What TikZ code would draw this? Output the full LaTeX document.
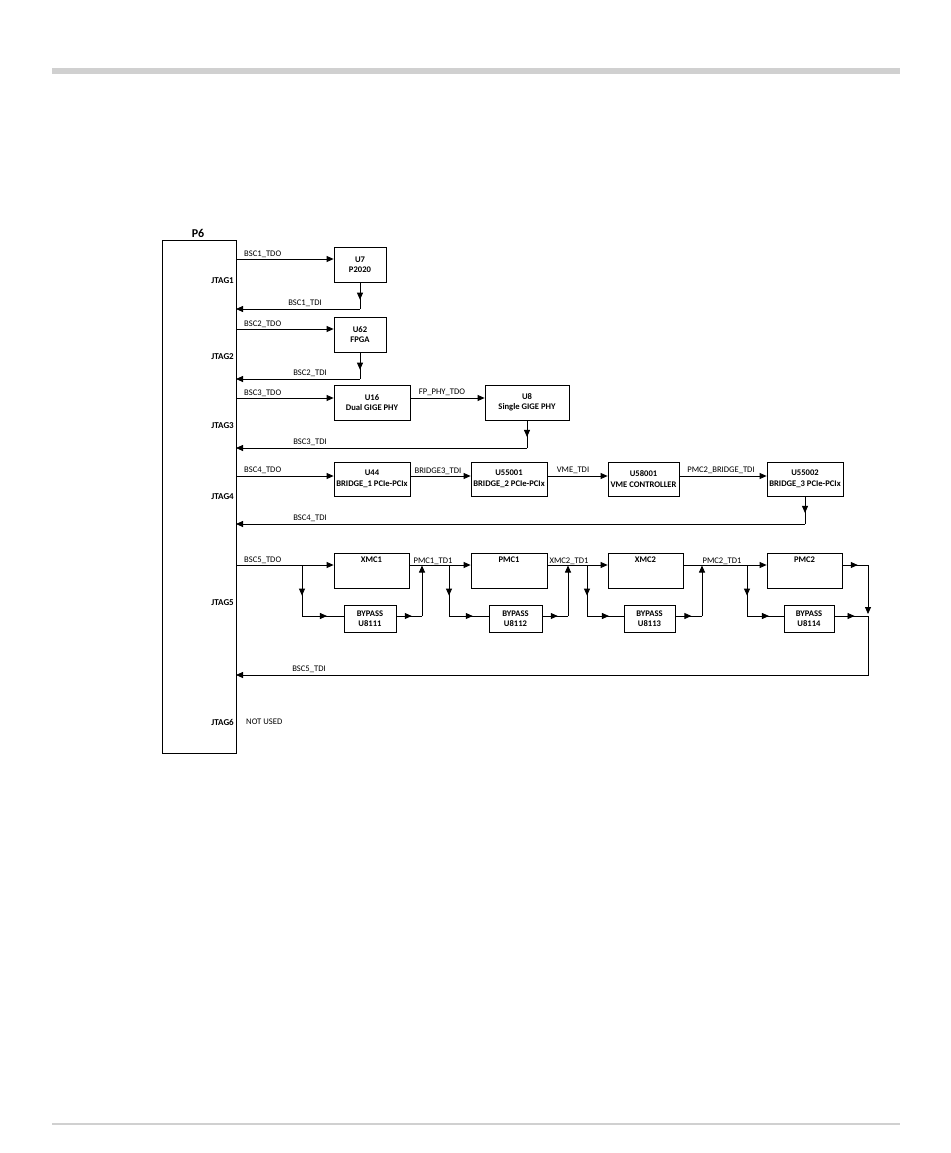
\documentclass[tikz,border=0pt]{standalone}
\usepackage{fontspec}
\setmainfont{Carlito}
\usetikzlibrary{arrows.meta,decorations.markings}
\begin{document}
\begin{tikzpicture}[x=1pt,y=-1pt,>={Triangle[length=7pt,width=6pt]},
  wire/.style={line width=0.8pt},
  mid/.style={wire,postaction={decorate},decoration={markings,mark=at position #1 with {\arrow{>}}}},
  mid/.default=0.6,
  chip/.style={draw,line width=0.8pt,inner sep=0pt,align=center,font=\fontsize{8.6}{10.5}\selectfont\bfseries},
  sig/.style={inner sep=0pt,font=\fontsize{8.6}{9}\selectfont},
  jtag/.style={inner sep=0pt,anchor=east,font=\fontsize{9}{10}\selectfont\bfseries}]
\useasboundingbox (0,0) rectangle (950,1153);
\fill[fill={rgb,255:red,208;green,208;blue,208}] (52,68) rectangle (900,74);
\draw[line width=2pt,color={rgb,255:red,208;green,208;blue,208}] (52,1124) -- (900,1124);
\node[draw,line width=0.8pt,minimum width=74pt,minimum height=513pt,inner sep=0pt] (p6) at (199,496.5) {};
\node[inner sep=0pt,anchor=base,font=\fontsize{12}{13}\selectfont\bfseries] (p6t) at (198,237) {P6};
\node[jtag] (j1) at (234,281) {JTAG1};
\node[jtag] (j2) at (234,357) {JTAG2};
\node[jtag] (j3) at (234,426) {JTAG3};
\node[jtag] (j4) at (234,497) {JTAG4};
\node[jtag] (j5) at (234,603) {JTAG5};
\node[jtag] (j6) at (234,722) {JTAG6};
\node[sig,anchor=west] (nu) at (246,722) {NOT USED};
\node[chip,minimum width=52pt,minimum height=35pt] (u7) at (360,264.5) {U7\\P2020};
\node[chip,minimum width=52pt,minimum height=35pt] (u62) at (360,334.5) {U62\\FPGA};
\node[chip,minimum width=76pt,minimum height=35pt] (u16) at (372,402.5) {U16\\Dual GIGE PHY};
\node[chip,minimum width=84pt,minimum height=35pt] (u8) at (527,402.5) {U8\\Single GIGE PHY};
\node[chip,minimum width=76pt,minimum height=34pt] (u44) at (372,479) {U44\\BRIDGE\_1 PCIe-PCIx};
\node[chip,minimum width=76pt,minimum height=34pt] (u55001) at (509,479) {U55001\\BRIDGE\_2 PCIe-PCIx};
\node[chip,minimum width=71pt,minimum height=34pt] (u58001) at (643.5,479) {U58001\\VME CONTROLLER};
\node[chip,minimum width=76pt,minimum height=34pt] (u55002) at (805,479) {U55002\\BRIDGE\_3 PCIe-PCIx};
\node[chip,minimum width=75pt,minimum height=35pt,label={[chip,draw=none,anchor=north,yshift=-4pt]north:XMC1}] (xmc1) at (371.5,570.5) {};
\node[chip,minimum width=76pt,minimum height=35pt,label={[chip,draw=none,anchor=north,yshift=-4pt]north:PMC1}] (pmc1) at (509,570.5) {};
\node[chip,minimum width=75pt,minimum height=35pt,label={[chip,draw=none,anchor=north,yshift=-4pt]north:XMC2}] (xmc2) at (645.5,570.5) {};
\node[chip,minimum width=75pt,minimum height=35pt,label={[chip,draw=none,anchor=north,yshift=-4pt]north:PMC2}] (pmc2) at (804.5,570.5) {};
\node[chip,minimum width=52pt,minimum height=27pt] (u8111) at (370,618.5) {BYPASS\\U8111};
\node[chip,minimum width=53pt,minimum height=27pt] (u8112) at (515.5,618.5) {BYPASS\\U8112};
\node[chip,minimum width=51pt,minimum height=27pt] (u8113) at (649.5,618.5) {BYPASS\\U8113};
\node[chip,minimum width=50pt,minimum height=27pt] (u8114) at (809,618.5) {BYPASS\\U8114};
\coordinate (a1) at (236,259);
\coordinate (r1) at (236,309);
\coordinate (c1) at (360,309);
\coordinate (a2) at (236,329);
\coordinate (r2) at (236,379);
\coordinate (c2) at (360,379);
\coordinate (a3) at (236,398);
\coordinate (r3) at (236,448);
\coordinate (c3) at (527,448);
\coordinate (a4) at (236,476);
\coordinate (r4) at (236,524);
\coordinate (c4) at (805,524);
\coordinate (a5) at (236,565);
\coordinate (r5) at (236,675);
\coordinate (b1) at (302,565);
\coordinate (b1d) at (302,616);
\coordinate (m1) at (422,616);
\coordinate (m1u) at (422,565.5);
\coordinate (b2) at (449,565);
\coordinate (b2d) at (449,616);
\coordinate (m2) at (568,616);
\coordinate (m2u) at (568,565.5);
\coordinate (b3) at (587,565);
\coordinate (b3d) at (587,616);
\coordinate (m3) at (702,616);
\coordinate (m3u) at (702,565.5);
\coordinate (b4) at (747,565);
\coordinate (b4d) at (747,616);
\coordinate (m4u) at (868,565);
\coordinate (m4) at (868,616);
\node[sig,anchor=base west] (l1) at (244,256) {BSC1\_TDO};
\node[sig,anchor=base] (l2) at (305,305) {BSC1\_TDI};
\node[sig,anchor=base west] (l3) at (244,326) {BSC2\_TDO};
\node[sig,anchor=base] (l4) at (310,375) {BSC2\_TDI};
\node[sig,anchor=base west] (l5) at (244,395) {BSC3\_TDO};
\node[sig,anchor=base] (l6) at (442,394) {FP\_PHY\_TDO};
\node[sig,anchor=base] (l7) at (310,444) {BSC3\_TDI};
\node[sig,anchor=base west] (l8) at (244,472) {BSC4\_TDO};
\node[sig,anchor=base] (l9) at (438,473) {BRIDGE3\_TDI};
\node[sig,anchor=base] (l10) at (573,472) {VME\_TDI};
\node[sig,anchor=base] (l11) at (721,472) {PMC2\_BRIDGE\_TDI};
\node[sig,anchor=base] (l12) at (310,520) {BSC4\_TDI};
\node[sig,anchor=base west] (l13) at (244,562) {BSC5\_TDO};
\node[sig,anchor=base] (l14) at (433,563) {PMC1\_TD1};
\node[sig,anchor=base] (l15) at (569,563) {XMC2\_TD1};
\node[sig,anchor=base] (l16) at (722,563) {PMC2\_TD1};
\node[sig,anchor=base] (l17) at (309,671) {BSC5\_TDI};
\draw[wire,->] (a1) -- (a1 -| u7.west);
\draw[mid=0.65] (u7.south) -- (c1);
\draw[wire,->] (c1) -- (r1);
\draw[wire,->] (a2) -- (a2 -| u62.west);
\draw[mid=0.65] (u62.south) -- (c2);
\draw[wire,->] (c2) -- (r2);
\draw[wire,->] (a3) -- (a3 -| u16.west);
\draw[wire,->] (a3 -| u16.east) -- (a3 -| u8.west);
\draw[mid=0.6] (u8.south) -- (c3);
\draw[wire,->] (c3) -- (r3);
\draw[wire,->] (a4) -- (a4 -| u44.west);
\draw[wire,->] (a4 -| u44.east) -- (a4 -| u55001.west);
\draw[wire,->] (a4 -| u55001.east) -- (a4 -| u58001.west);
\draw[wire,->] (a4 -| u58001.east) -- (a4 -| u55002.west);
\draw[mid=0.6] (u55002.south) -- (c4);
\draw[wire,->] (c4) -- (r4);
\draw[wire,->] (a5) -- (a5 -| xmc1.west);
\draw[mid] (b1) -- (b1d);
\draw[mid] (b1d) -- (b1d -| u8111.west);
\draw[mid] (b1d -| u8111.east) -- (m1);
\draw[wire,->] (m1) -- (m1u);
\draw[wire,->] (a5 -| xmc1.east) -- (a5 -| pmc1.west);
\draw[mid] (b2) -- (b2d);
\draw[mid] (b2d) -- (b2d -| u8112.west);
\draw[mid] (b2d -| u8112.east) -- (m2);
\draw[wire,->] (m2) -- (m2u);
\draw[wire,->] (a5 -| pmc1.east) -- (a5 -| xmc2.west);
\draw[mid] (b3) -- (b3d);
\draw[mid] (b3d) -- (b3d -| u8113.west);
\draw[mid] (b3d -| u8113.east) -- (m3);
\draw[wire,->] (m3) -- (m3u);
\draw[wire,->] (a5 -| xmc2.east) -- (a5 -| pmc2.west);
\draw[mid] (b4) -- (b4d);
\draw[mid] (b4d) -- (b4d -| u8114.west);
\draw[mid] (b4d -| u8114.east) -- (m4);
\draw[mid] (a5 -| pmc2.east) -- (m4u);
\draw[wire,->,shorten >=2pt] (m4u) -- (m4);
\draw[wire,->] (m4) |- (r5);
\end{tikzpicture}
\end{document}
